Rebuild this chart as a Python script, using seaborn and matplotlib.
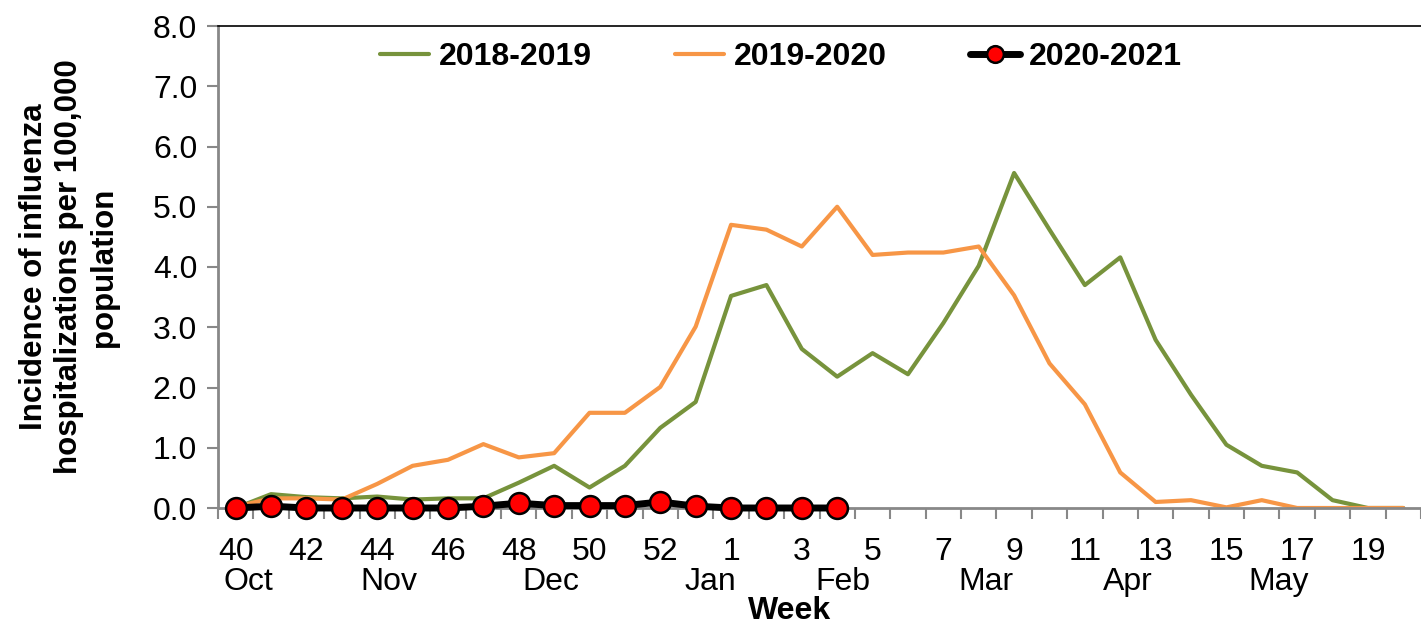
import numpy as np
import pandas as pd
import matplotlib
matplotlib.use("Agg")
import matplotlib.pyplot as plt
import matplotlib.transforms as mtransforms
import seaborn as sns

sns.set_theme(style="white")
plt.rcParams['font.family'] = ['Liberation Sans', 'DejaVu Sans']
plt.rcParams['text.color'] = 'black'
plt.rcParams['axes.labelcolor'] = 'black'
plt.rcParams['xtick.color'] = 'black'
plt.rcParams['ytick.color'] = 'black'

# Semanas de la temporada (2020-2021 tiene semana 53)
weeks = list(range(40, 54)) + list(range(1, 21))

# Incidencia por 100,000
s2018_2019 = [0.00, 0.23, 0.18, 0.16, 0.19, 0.14, 0.16, 0.16, 0.42, 0.70,
              0.34, 0.70, 1.33, 1.76, 3.52, 3.70, 2.64, 2.18, 2.57, 2.22,
              3.07, 4.02, 5.56, 4.62, 3.70, 4.16, 2.79, 1.88, 1.05, 0.70,
              0.59, 0.13, 0.00, 0.00]
s2019_2020 = [0.02, 0.16, 0.16, 0.14, 0.40, 0.70, 0.80, 1.06, 0.84, 0.91,
              1.58, 1.58, 2.01, 3.01, 4.70, 4.62, 4.34, 5.00, 4.20, 4.24,
              4.24, 4.34, 3.53, 2.40, 1.72, 0.59, 0.10, 0.13, 0.01, 0.13,
              0.00, 0.00, 0.00, 0.00]
s2020_2021 = [0.00, 0.03, 0.00, 0.00, 0.00, 0.00, 0.00, 0.03, 0.08, 0.04,
              0.04, 0.04, 0.10, 0.03, 0.00, 0.00, 0.00, 0.00]

# Etiquetas del eje x
tick_weeks = [40, 42, 44, 46, 48, 50, 52, 1, 3, 5, 7, 9, 11, 13, 15, 17, 19]
months = ['Oct', 'Nov', 'Dec', 'Jan', 'Feb', 'Mar', 'Apr', 'May']
month_pos = [0.37, 4.33, 8.91, 13.43, 17.17, 21.2, 25.2, 29.47]

idx = np.arange(len(weeks))
df = pd.DataFrame({'idx': idx, '2018-2019': s2018_2019, '2019-2020': s2019_2020})
df_cur = pd.DataFrame({'idx': idx[:len(s2020_2021)], '2020-2021': s2020_2021})

fig = plt.figure(figsize=(14.21, 6.23), dpi=100)
ax = fig.add_axes([218 / 1421, 115 / 623, 1 - 218 / 1421, 482 / 623])

sns.lineplot(data=df, x='idx', y='2018-2019', color='#77933C', linewidth=3,
             label='2018-2019', ax=ax)
sns.lineplot(data=df, x='idx', y='2019-2020', color='#F79646', linewidth=3,
             label='2019-2020', ax=ax)
sns.lineplot(data=df_cur, x='idx', y='2020-2021', color='black', linewidth=5,
             marker='o', label='2020-2021', ax=ax)
# tamaño de marcador y grosor de línea como en el original
for ln in ax.get_lines():
    if ln.get_label() == '2020-2021':
        ln.set_markersize(15)
        ln.set_linewidth(5)
        ln.set_markerfacecolor('red')
        ln.set_markeredgecolor('black')
        ln.set_markeredgewidth(1.8)
        ln.set_clip_on(False)
        ln.set_zorder(5)

ax.set_xlim(-0.5, 33.29)
ax.set_ylim(0, 8)

# eje y
ax.set_yticks(np.arange(0, 9, 1))
ax.set_yticklabels([f"{v:.1f}" for v in np.arange(0, 9, 1)], fontsize=23)
ax.tick_params(axis='y', direction='out', length=8, width=1.5, color='#888888',
               pad=7, left=True)

# eje x: etiquetas en las categorías, marcas entre categorías
tick_idx = [weeks.index(w) if w >= 40 else 14 + w - 1 for w in tick_weeks]
ax.set_xticks(tick_idx)
ax.set_xticklabels([str(w) for w in tick_weeks], fontsize=23)
ax.set_xticks(np.arange(-0.5, len(weeks), 1), minor=True)
ax.tick_params(axis='x', which='major', length=0, pad=21)
ax.tick_params(axis='x', which='minor', direction='out', length=8, width=1.5,
               color='#888888', bottom=True)

trans = mtransforms.blended_transform_factory(ax.transData, ax.transAxes)
for m, p in zip(months, month_pos):
    ax.text(p, -0.153, m, transform=trans, ha='center', va='center', fontsize=23)

ax.text(0.475, -0.213, 'Week', transform=ax.transAxes, ha='center', va='center',
        fontsize=23, fontweight='bold')

ax.set_xlabel('')
ax.set_ylabel('Incidence of influenza\nhospitalizations per 100,000\npopulation',
              fontsize=22.5, fontweight='bold', linespacing=1.22, labelpad=24)

for side in ['left', 'bottom']:
    ax.spines[side].set_color('#888888')
    ax.spines[side].set_linewidth(2)
ax.spines['top'].set_color('black')
ax.spines['top'].set_linewidth(1.2)
ax.spines['right'].set_visible(False)

leg = ax.legend(loc='center', bbox_to_anchor=(0.468, 0.936), ncol=3, frameon=False,
                prop={'weight': 'bold', 'size': 23}, handlelength=1.55,
                handletextpad=0.3, columnspacing=2.6)
h = leg.legend_handles[2]
h.set_markersize(12)
h.set_markerfacecolor('red')
h.set_markeredgecolor('black')
h.set_linewidth(5)

plt.savefig('out.png', dpi=100)
